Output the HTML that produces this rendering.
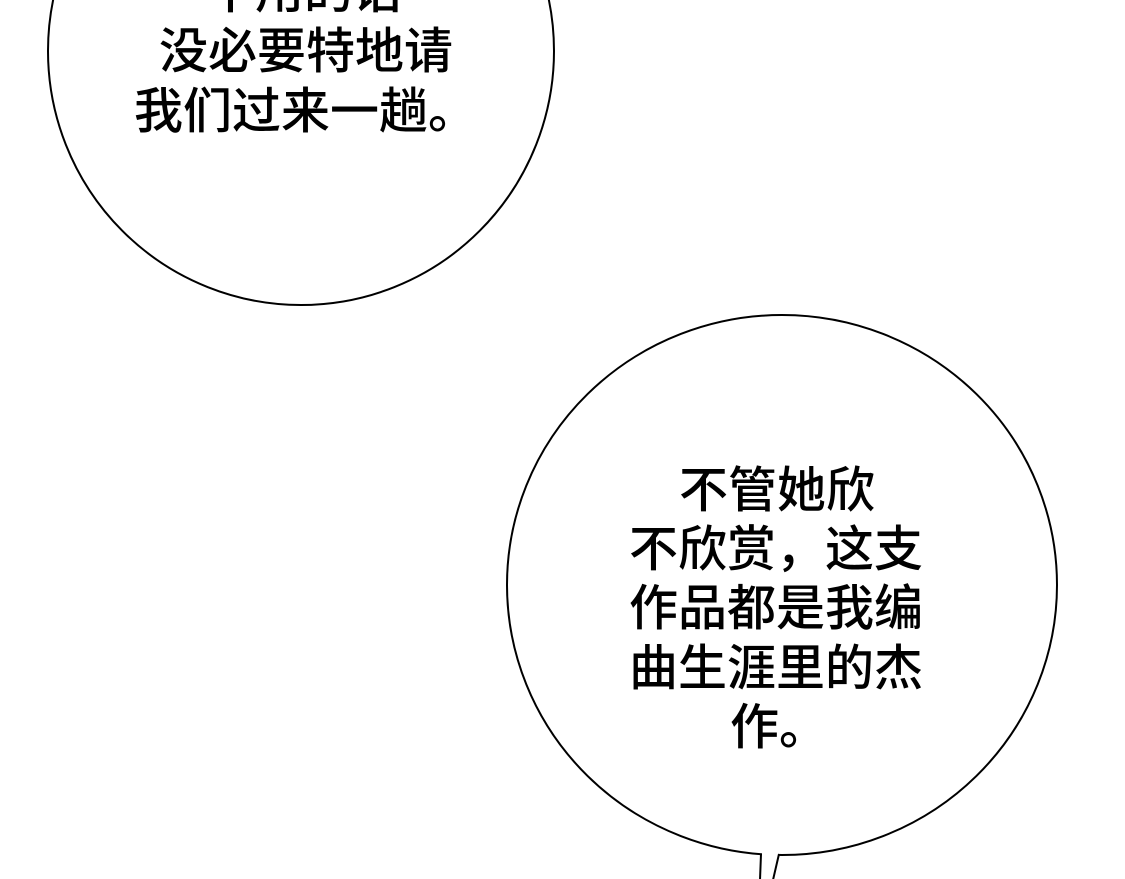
<!DOCTYPE html>
<html><head><meta charset="utf-8"><style>
html,body{margin:0;padding:0;background:#fff;width:1125px;height:879px;overflow:hidden}
text{font-family:"Liberation Sans","Noto Sans CJK SC",sans-serif;font-size:49px;font-weight:500;fill:#000}
</style></head><body>
<svg width="1125" height="879" viewBox="0 0 1125 879" xmlns="http://www.w3.org/2000/svg">
<rect width="1125" height="879" fill="#fff"/>
<ellipse cx="301" cy="51" rx="253" ry="254" fill="#fff" stroke="#000" stroke-width="2"/>
<ellipse cx="782" cy="585" rx="275" ry="270" fill="#fff" stroke="#000" stroke-width="2"/>
<rect x="762" y="848" width="16" height="12" fill="#fff"/>
<path d="M761,854 L760,880 M779,854 L773,880" fill="none" stroke="#000" stroke-width="2"/>
<text x="206" y="8">不用的话</text>
<text x="159" y="68">没必要特地请</text>
<text x="134" y="128">我们过来一趟。</text>
<text x="679" y="507">不管她欣</text>
<text x="629" y="566">不欣赏，这支</text>
<text x="629" y="625">作品都是我编</text>
<text x="629" y="685">曲生涯里的杰</text>
<text x="730" y="744">作。</text>
</svg>
</body></html>
